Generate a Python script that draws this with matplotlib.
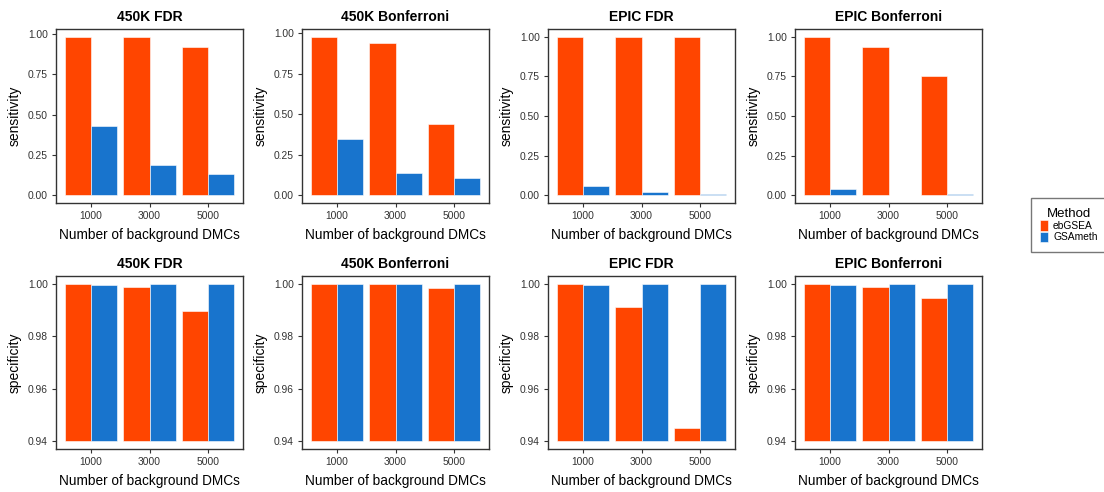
import numpy as np
import matplotlib.pyplot as plt
from matplotlib.patches import Patch

plt.rcParams['font.family'] = ['Liberation Sans', 'DejaVu Sans']

backgrounds = ["1000", "3000", "5000"]
methods = ["ebGSEA", "GSAmeth"]
panel_titles = ["450K FDR", "450K Bonferroni", "EPIC FDR", "EPIC Bonferroni"]

# sensitivity, per panel: ebGSEA then GSAmeth
sens_ebgsea = [
    [0.983, 0.983, 0.923],
    [0.977, 0.942, 0.439],
    [1.000, 1.000, 1.000],
    [1.000, 0.939, 0.750],
]
sens_gsameth = [
    [0.427, 0.188, 0.129],
    [0.348, 0.139, 0.108],
    [0.059, 0.019, 0.008],
    [0.038, 0.002, 0.008],
]

# specificity
spec_ebgsea = [
    [1.000, 0.9987, 0.9896],
    [1.000, 0.9998, 0.9986],
    [1.000, 0.9912, 0.9451],
    [1.000, 0.9987, 0.9946],
]
spec_gsameth = [
    [0.9996, 1.000, 1.000],
    [0.9998, 1.000, 1.000],
    [0.9997, 1.000, 1.000],
    [0.9997, 1.000, 1.000],
]

colors = ["#FF4500", "#1874CD"]
W, H = 1104, 492
lefts = [56, 302, 548, 795]

fig = plt.figure(figsize=(W / 100, H / 100), dpi=100)


def style_axes(ax, title, ylabel):
    ax.set_title(title, fontsize=10, fontweight="bold", pad=6)
    ax.set_ylabel(ylabel, fontsize=10, labelpad=4)
    ax.set_xlabel("Number of background DMCs", fontsize=9.8, labelpad=5)
    ax.set_xticks(np.arange(len(backgrounds)))
    ax.set_xticklabels(backgrounds)
    ax.set_xlim(-0.6, len(backgrounds) - 0.4)
    ax.tick_params(axis="both", labelsize=7.4, length=3, width=0.8,
                   color="#333333", labelcolor="#333333", pad=3)
    for sp in ax.spines.values():
        sp.set_color("#333333")
        sp.set_linewidth(1.0)


x = np.arange(len(backgrounds))
w = 0.45

for i, title in enumerate(panel_titles):
    # top row: sensitivity
    ax = fig.add_axes([lefts[i] / W, 1 - 203 / H, 187 / W, 174 / H])
    eb = np.array(sens_ebgsea[i])
    gs = np.array(sens_gsameth[i])
    ax.bar(x - w / 2, eb, w, color=colors[0], edgecolor="white", linewidth=0.4)
    ax.bar(x + w / 2, gs, w, color=colors[1], edgecolor="white", linewidth=0.4)
    m = max(eb.max(), gs.max())
    ax.set_ylim(-0.05 * m, 1.05 * m)
    ax.set_yticks([0, 0.25, 0.5, 0.75, 1.0])
    ax.set_yticklabels(["0.00", "0.25", "0.50", "0.75", "1.00"])
    style_axes(ax, title, "sensitivity")

    # bottom row: specificity
    ax = fig.add_axes([lefts[i] / W, 1 - 449 / H, 187 / W, 173 / H])
    base = 0.94
    eb = np.array(spec_ebgsea[i])
    gs = np.array(spec_gsameth[i])
    ax.bar(x - w / 2, eb - base, w, bottom=base, color=colors[0],
           edgecolor="white", linewidth=0.4)
    ax.bar(x + w / 2, gs - base, w, bottom=base, color=colors[1],
           edgecolor="white", linewidth=0.4)
    ax.set_ylim(0.937, 1.003)
    ax.set_yticks([0.94, 0.96, 0.98, 1.00])
    ax.set_yticklabels(["0.94", "0.96", "0.98", "1.00"])
    style_axes(ax, title, "specificity")

handles = [Patch(facecolor=c, edgecolor="white", linewidth=0.4, label=m)
           for c, m in zip(colors, methods)]
leg = fig.legend(handles=handles, title="Method", loc="center left",
                 bbox_to_anchor=(1031 / W, 1 - 225 / H), fontsize=7.4,
                 title_fontsize=9.5, frameon=True, fancybox=False,
                 handlelength=0.8, handleheight=1.25, handletextpad=0.45,
                 borderpad=0.9, labelspacing=0.05, borderaxespad=0)
leg.get_frame().set_edgecolor("#555555")
leg.get_frame().set_linewidth(1.0)

fig.savefig("out.png", dpi=100)
